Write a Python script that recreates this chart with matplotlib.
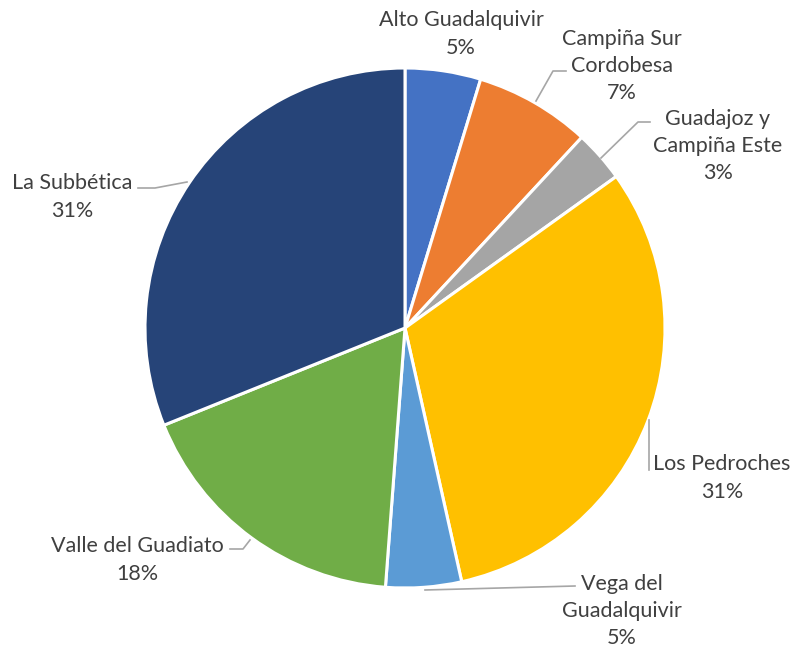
import matplotlib
matplotlib.use("Agg")
import matplotlib.pyplot as plt

categories = ["Alto Guadalquivir", "Campiña Sur\nCordobesa", "Guadajoz y\nCampiña Este",
              "Los Pedroches", "Vega del\nGuadalquivir", "Valle del Guadiato", "La Subbética"]
values = [4.7, 7.2, 3.2, 31.4, 4.7, 17.7, 31.1]
colors = ["#4472C4", "#ED7D31", "#A5A5A5", "#FFC000", "#5B9BD5", "#70AD47", "#264478"]

# layout (pixels): label centers and leader polylines
label_px = [(461, 34), (622, 66), (718, 146), (722, 478), (622, 611), (137, 560), (72, 197)]
leaders_px = [None,
              [(536, 101), (553, 71), (566, 71)],
              [(601, 158), (638, 122), (650, 122)],
              [(649, 420), (649, 470)],
              [(425, 590), (575, 586)],
              [(250, 540), (243, 549), (230, 549)],
              [(187, 182), (155, 188), (138, 188)]]

W, H = 796, 650
CX, CY, R = 405, 328, 260

plt.rcParams['font.family'] = ['Lato', 'DejaVu Sans']
fig = plt.figure(figsize=(W / 100, H / 100), dpi=100)
ax = fig.add_axes([0, 0, 1, 1])

ax.pie(values, colors=colors, startangle=90, counterclock=False, radius=1,
       wedgeprops=dict(edgecolor='white', linewidth=2.2))
ax.set_xlim(-CX / R, (W - CX) / R)
ax.set_ylim(-(H - CY) / R, CY / R)
ax.set_aspect('equal')
ax.axis('off')

def to_data(p):
    return ((p[0] - CX) / R, (CY - p[1]) / R)

total = sum(values)
for cat, v, lp, ld in zip(categories, values, label_px, leaders_px):
    x, y = to_data(lp)
    ax.text(x, y, f"{cat}\n{round(v / total * 100):.0f}%", ha='center', va='center',
            fontsize=15.5, color='#404040', linespacing=1.45)
    if ld:
        pts = [to_data(p) for p in ld]
        ax.plot([p[0] for p in pts], [p[1] for p in pts], color='#A6A6A6', lw=1.2)

fig.savefig("out.png", dpi=100)
